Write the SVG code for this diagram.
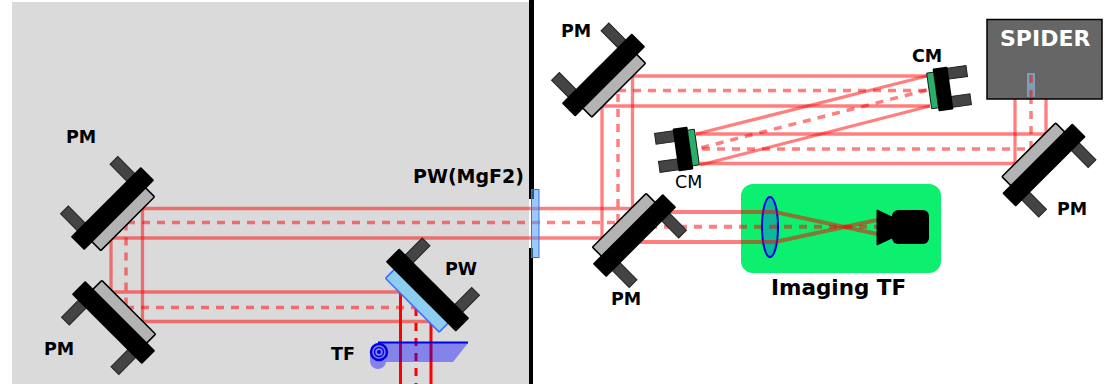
<svg xmlns="http://www.w3.org/2000/svg" xmlns:xlink="http://www.w3.org/1999/xlink" width="1105" height="384" viewBox="0 0 1105 384">
<style>
text{font-family:"DejaVu Sans",sans-serif;font-weight:bold;font-size:17.5px;fill:#000}
.s{fill:none;stroke:#f00;stroke-opacity:.5;stroke-width:3.300}
.d{fill:none;stroke:#f00;stroke-opacity:.5;stroke-width:3.500;stroke-dasharray:8 7}
.r{fill:none;stroke:#f00;stroke-width:3}
.rd{fill:none;stroke:#f00;stroke-width:3;stroke-dasharray:8 7}
.k{fill:#444;stroke:#222;stroke-width:1}
</style>
<defs>
<g id="mount">
<rect class="k" x="-40.500" y="-33" width="11" height="26"/>
<rect class="k" x="29.500" y="-33" width="11" height="26"/>
<rect x="-49.500" y="-9.500" width="99" height="19" rx="1" fill="#000"/>
</g>
<g id="cmount">
<rect class="k" x="-26" y="-19.500" width="22" height="11"/>
<rect class="k" x="-26" y="9" width="22" height="11"/>
<rect x="-7.500" y="-21.500" width="15" height="43" rx="1" fill="#000"/>
<rect x="7" y="-18" width="7" height="36" fill="#2aae6a" stroke="#000" stroke-width=".8"/>
</g>
<rect id="gm" x="-38" y="5" width="76" height="16.500" rx="1" fill="#b3b3b3" stroke="#000" stroke-width="1.500"/>
</defs>
<rect width="1105" height="384" fill="#fff"/>
<rect id="panel" x="12" y="2" width="517" height="382" fill="#dadada"/>
<g id="beams">
<path class="s" d="M142.500 208.500H632"/>
<path class="s" d="M111 238H602"/>
<path class="d" d="M127 222.500H618"/>
<path class="s" d="M111 238V292"/>
<path class="s" d="M142.500 208.500V321.500"/>
<path class="d" d="M126 222.500V307"/>
<path class="s" d="M111 292H400"/>
<path class="s" d="M142.500 321.500H431"/>
<path class="d" d="M126 307.500H416"/>
<path class="r" d="M400.500 292V384"/>
<path class="r" d="M431 322V384"/>
<path class="rd" d="M416 308V384"/>
<path class="s" d="M602 238V106"/>
<path class="s" d="M632.500 208.500V76"/>
<path class="d" d="M618 222V90.500"/>
<path class="s" d="M632 76H927"/>
<path class="s" d="M602 106H930"/>
<path class="d" d="M618 90.500H927"/>
<path class="s" d="M927 76L696 134"/>
<path class="s" d="M930 106L700 165"/>
<path class="d" d="M927 90L700 148"/>
<path class="s" d="M696 134H1046"/>
<path class="s" d="M700 163.500H1015"/>
<path class="d" d="M702 149H1031"/>
<path class="s" d="M1015 163.500V99"/>
<path class="s" d="M1046 134V99"/>
<path class="d" d="M1031 149V76"/>
</g>
<g id="imaging">
<rect x="741" y="184" width="200" height="89" rx="12" fill="#0def6f"/>
<ellipse cx="770" cy="227" rx="8" ry="30" fill="#0cb89a" stroke="#0000e0" stroke-width="2"/>
<path class="s" style="stroke-width:4" d="M634 212H775L877 234"/>
<path class="s" style="stroke-width:4" d="M634 242H775L877 220"/>
<path class="d" style="stroke-width:4" d="M634 226.700H877"/>
<path d="M877 210L892 217V238L877 245Z" fill="#000" stroke="#000" stroke-linejoin="round"/>
<rect x="892" y="210" width="37" height="34" rx="6" fill="#000"/>
<text x="771" y="295" style="font-size:21.500px">Imaging TF</text>
</g>
<g id="spider">
<rect x="987" y="19.500" width="115" height="79.500" fill="#666" stroke="#000" stroke-width="1.500"/>
<rect x="1027" y="73" width="8" height="24" fill="#7a9fb8"/>
<path class="d" d="M1031 75V97"/>
<text x="1000" y="46" style="font-size:22px;fill:#fff">SPIDER</text>
</g>
<g id="divider" fill="#000">
<rect x="529" y="0" width="5" height="199"/>
<rect x="529" y="248" width="4" height="136"/>
</g>
<g id="pw-mgf2">
<rect x="531.500" y="189.500" width="7.500" height="68" fill="#4a9df0" fill-opacity=".55" stroke="#3b6cff" stroke-width="1"/>
<text x="413" y="183" style="font-size:19px">PW(MgF2)</text>
</g>
<g id="pm1"><g transform="translate(112.500 208.500) rotate(-45)"><use href="#gm"/><use href="#mount"/></g><text x="66" y="143">PM</text></g>
<g id="pm2"><g transform="translate(113.500 322.500) rotate(225)"><use href="#gm"/><use href="#mount"/></g><text x="44" y="355">PM</text></g>
<g id="pw"><g transform="translate(427.500 290) rotate(45)"><rect x="-38" y="5" width="76" height="16.500" rx="1" fill="#8fcdf0" stroke="#3b6cff" stroke-width="1.500"/><use href="#mount"/></g><text x="445" y="275">PW</text></g>
<g id="tf">
<path d="M378 343H468L453 362H386A8 8 0 1 1 370 360V352Z" fill="#00f" fill-opacity=".4"/>
<path d="M378 342.500H468" stroke="#0000e6" stroke-width="2" fill="none"/>
<circle cx="379" cy="352" r="8" fill="none" stroke="#0000e6" stroke-width="2.500"/>
<circle cx="379" cy="352" r="4.500" fill="none" stroke="#0000e6" stroke-width="1.500"/>
<circle cx="379" cy="352" r="2" fill="#0000e6"/>
<text x="331" y="360">TF</text>
</g>
<g id="pm3"><g transform="translate(603.500 75) rotate(-45)"><use href="#gm"/><use href="#mount"/></g><text x="561" y="37">PM</text></g>
<g id="pm4"><g transform="translate(634.500 235.500) rotate(135)"><use href="#gm"/><use href="#mount"/></g><text x="611" y="305">PM</text></g>
<g id="pm5"><g transform="translate(1044 165) rotate(135)"><use href="#gm"/><use href="#mount"/></g><text x="1057" y="215">PM</text></g>
<g id="cm1"><g transform="translate(683 149) rotate(-8)"><use href="#cmount"/></g><text x="675" y="188" style="font-weight:normal">CM</text></g>
<g id="cm2"><g transform="translate(943 89) rotate(172)"><use href="#cmount"/></g><text x="912" y="62">CM</text></g>
</svg>
